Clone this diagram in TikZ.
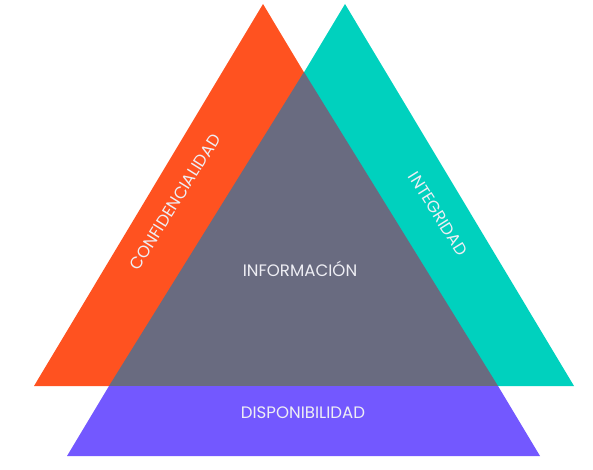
\documentclass[tikz,border=0pt]{standalone}
\usepackage{fontspec}
\setmainfont{Poppins}
\definecolor{cOrange}{HTML}{FF5220}
\definecolor{cTeal}{HTML}{00D1BE}
\definecolor{cSlate}{HTML}{696B80}
\definecolor{cViolet}{HTML}{7358FF}
\definecolor{cLabel}{HTML}{EEEEF4}
\begin{document}
\begin{tikzpicture}[x=1pt,y=-1pt,
  lbl/.style={text=cLabel,font=\fontsize{16.6}{18}\selectfont,inner sep=0pt}]
\useasboundingbox (0,0) rectangle (593,470);
% side triangles
\fill[cOrange] (263,4) coordinate (oa) -- (34,386) -- (492,386) -- cycle;
\fill[cTeal] (345,4) coordinate (ta) -- (116,386) -- (574,386) -- cycle;
% central triangle and base band
\fill[cSlate] (304,72) coordinate (ga) -- (109,386) -- (498,386) -- cycle;
\fill[cViolet] (109,386) -- (498,386) -- (540,456) -- (67,456) -- cycle;
% labels
\node[lbl,rotate=58] (conf) at (175,202) {CONFIDENCIALIDAD};
\node[lbl,rotate=-58] (integ) at (438,214) {INTEGRIDAD};
\node[lbl] (info) at (300,269) {INFORMACIÓN};
\node[lbl] (disp) at (303,413) {DISPONIBILIDAD};
\end{tikzpicture}
\end{document}
